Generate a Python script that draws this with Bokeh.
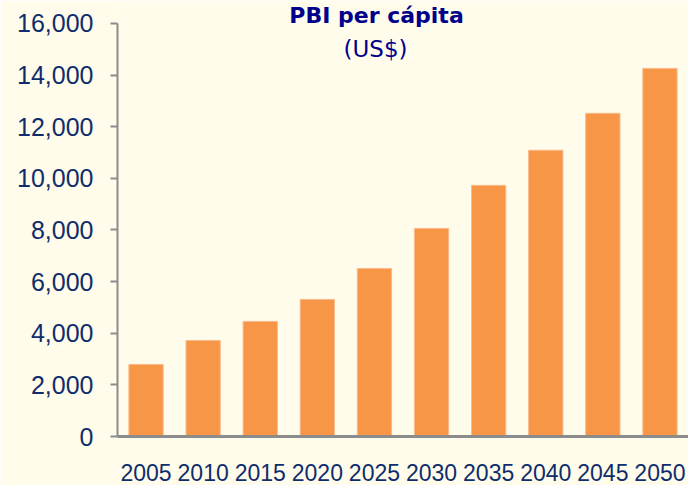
from bokeh.plotting import figure
from bokeh.models import ColumnDataSource, FactorRange, Range1d, Label, NumeralTickFormatter, FixedTicker
from bokeh.embed import file_html
from bokeh.resources import INLINE

years = ["2005", "2010", "2015", "2020", "2025", "2030", "2035", "2040", "2045", "2050"]
pbi = [2790, 3720, 4460, 5310, 6510, 8060, 9730, 11090, 12520, 14260]
y_ticks = [0, 2000, 4000, 6000, 8000, 10000, 12000, 14000, 16000]
title_1 = "PBI per cápita"
title_2 = "(US$)"

BG = "#FFFCEB"
NAVY = "#0F2D6B"

src = ColumnDataSource(dict(x=years, y=pbi))

p = figure(width=688, height=485, x_range=FactorRange(*years, range_padding=0),
           y_range=Range1d(0, 16891), output_backend="svg", toolbar_location=None,
           min_border_left=117, min_border_right=0, min_border_top=0, min_border_bottom=49)
p.background_fill_color = BG
p.border_fill_color = BG
p.outline_line_color = None
p.grid.visible = False

p.vbar(x="x", top="y", width=0.6, source=src, fill_color="#F79646",
       line_color="#FAB98A", line_width=1)

ya = p.yaxis[0]
ya.ticker = FixedTicker(ticks=y_ticks)
ya.bounds = (0, 16000)
ya.formatter = NumeralTickFormatter(format="0,0")
ya.axis_line_color = "#8C8C8C"
ya.axis_line_width = 2
ya.major_tick_line_color = "#8C8C8C"
ya.major_tick_line_width = 2
ya.major_tick_out = 7
ya.major_tick_in = 0
ya.minor_tick_line_color = None
ya.major_label_standoff = 17
ya.major_label_text_font = "Liberation Sans"
ya.major_label_text_font_size = "25px"
ya.major_label_text_color = NAVY

xa = p.xaxis[0]
xa.axis_line_color = "#8C8C8C"
xa.axis_line_width = 3
xa.major_tick_line_color = None
xa.minor_tick_line_color = None
xa.major_label_standoff = 21
xa.major_label_text_font = "Liberation Sans"
xa.major_label_text_font_size = "23px"
xa.major_label_text_color = NAVY

p.add_layout(Label(x=259, y=434, x_units="screen", y_units="screen", text=title_1,
                   text_font="DejaVu Sans", text_font_style="bold", text_font_size="22px",
                   text_color="#00008B", text_align="center", text_baseline="top"))
p.add_layout(Label(x=258, y=401, x_units="screen", y_units="screen", text=title_2,
                   text_font="DejaVu Sans", text_font_size="23px",
                   text_color="#00008B", text_align="center", text_baseline="top"))

html = file_html(p, INLINE)
html = html.replace("<body>", '<body style="background:%s">' % BG, 1)
open("out.html", "w").write(html)
